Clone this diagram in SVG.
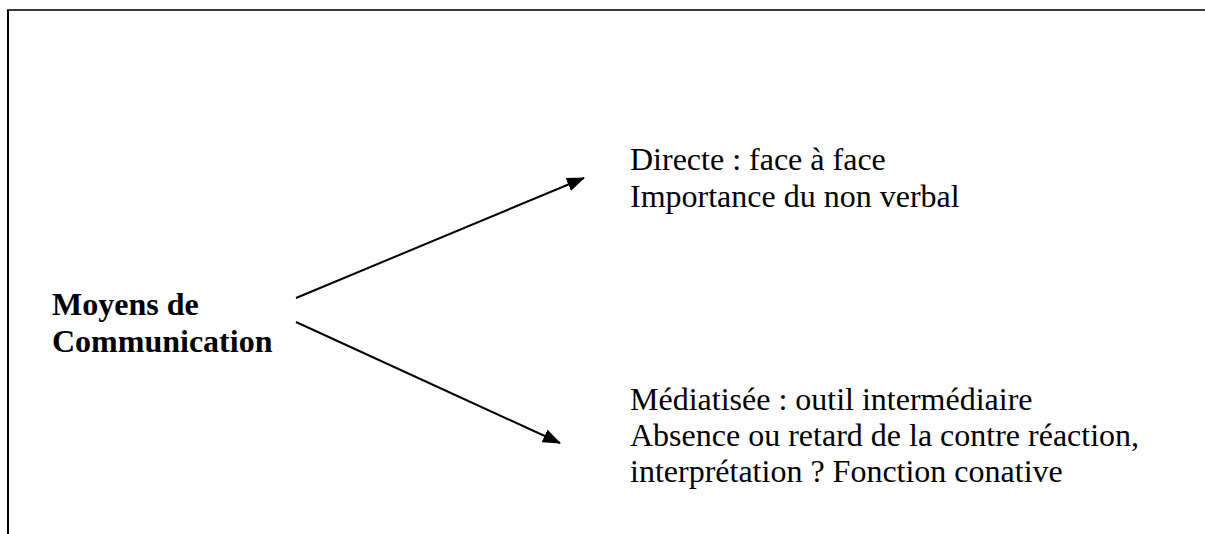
<svg xmlns="http://www.w3.org/2000/svg" width="1205" height="534" viewBox="0 0 1205 534">
<defs>
<style>
.t{font-family:"Liberation Serif","Times New Roman",serif;font-size:32px;fill:#000}
.b{font-weight:bold}
.c{stroke:#000;stroke-width:2;fill:none}
</style>
<marker id="ah" markerUnits="userSpaceOnUse" markerWidth="18" markerHeight="14" refX="17" refY="7" orient="auto">
<path d="M0,0 L18,7 L0,14 Z" fill="#000"/>
</marker>
</defs>
<rect width="1205" height="534" fill="#fff"/>
<g id="frame">
<line x1="7" y1="10" x2="1205" y2="10" stroke="#3a3a3a" stroke-width="2"/>
<line x1="8" y1="10" x2="8" y2="534" stroke="#000" stroke-width="2"/>
</g>
<g id="connectors">
<line class="c" x1="296" y1="298" x2="584" y2="178" marker-end="url(#ah)"/>
<line class="c" x1="296" y1="322" x2="560" y2="443" marker-end="url(#ah)"/>
</g>
<g id="node-moyens">
<text class="t b" x="52" y="315">Moyens de</text>
<text class="t b" x="52" y="352">Communication</text>
</g>
<g id="node-directe">
<text class="t" x="630" y="170">Directe : face à face</text>
<text class="t" x="630" y="207">Importance du non verbal</text>
</g>
<g id="node-mediatisee">
<text class="t" x="630" y="410">Médiatisée : outil intermédiaire</text>
<text class="t" x="630" y="446">Absence ou retard de la contre réaction,</text>
<text class="t" x="630" y="482">interprétation ? Fonction conative</text>
</g>
</svg>
